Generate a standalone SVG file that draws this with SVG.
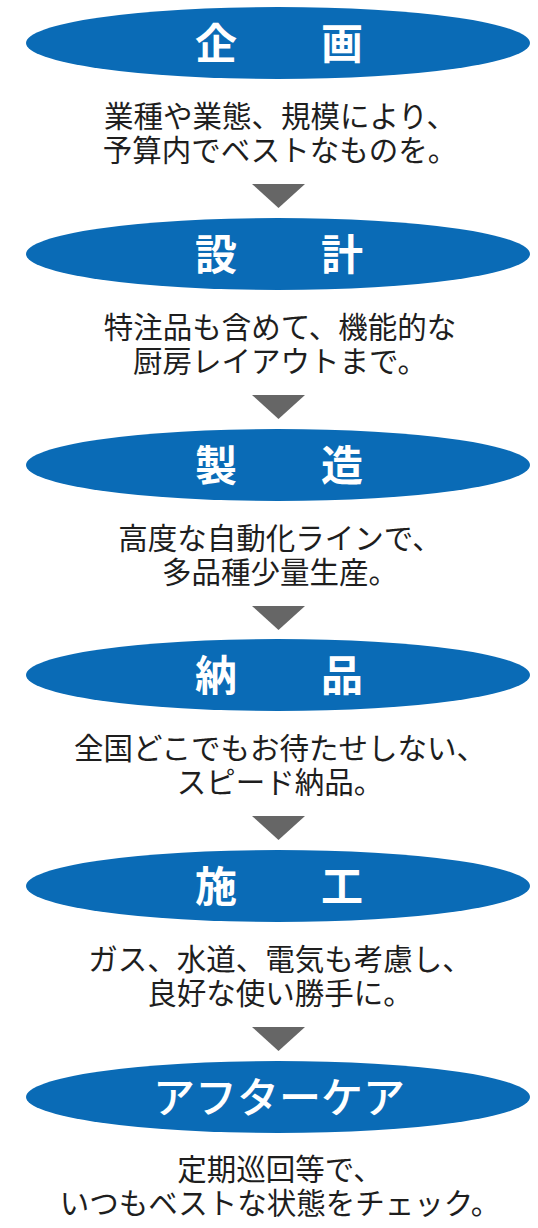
<svg xmlns="http://www.w3.org/2000/svg" width="538" height="1228" viewBox="0 0 538 1228">
<style>
.el{fill:#0a6bb6}
.ttl{font-family:"Noto Sans CJK JP","Noto Sans CJK SC",sans-serif;font-size:42px;font-weight:700;fill:#fff;text-anchor:middle}
.ttl2{font-family:"Noto Sans CJK JP","Noto Sans CJK SC",sans-serif;font-size:42px;font-weight:500;fill:#fff;text-anchor:middle}
.dsc{font-family:"Noto Sans CJK JP","Noto Sans CJK SC",sans-serif;font-size:29.5px;font-weight:400;fill:#1e1e1e;text-anchor:middle}
.arr{fill:#666}
</style>
<rect width="538" height="1228" fill="#fff"/>
<g id="connectors">
<polygon class="arr" points="252,184 305,184 278.5,208"/>
<polygon class="arr" points="252,395 305,395 278.5,419"/>
<polygon class="arr" points="252,606 305,606 278.5,630"/>
<polygon class="arr" points="252,816 305,816 278.5,840"/>
<polygon class="arr" points="252,1027 305,1027 278.5,1051"/>
</g>
<g id="node1">
<ellipse class="el" cx="278" cy="43" rx="252" ry="36"/>
<text class="ttl" x="279" y="59">企　　画</text>
<text class="dsc" x="280" y="127">業種や業態、規模により、</text>
<text class="dsc" x="280" y="161">予算内でベストなものを。</text>
</g>
<g id="node2">
<ellipse class="el" cx="278" cy="254" rx="252" ry="36"/>
<text class="ttl" x="279" y="270">設　　計</text>
<text class="dsc" x="280" y="338">特注品も含めて、機能的な</text>
<text class="dsc" x="280" y="372">厨房レイアウトまで。</text>
</g>
<g id="node3">
<ellipse class="el" cx="278" cy="465" rx="252" ry="36"/>
<text class="ttl" x="279" y="481">製　　造</text>
<text class="dsc" x="280" y="549">高度な自動化ラインで、</text>
<text class="dsc" x="280" y="583">多品種少量生産。</text>
</g>
<g id="node4">
<ellipse class="el" cx="278" cy="675" rx="252" ry="36"/>
<text class="ttl" x="279" y="691">納　　品</text>
<text class="dsc" x="280" y="759">全国どこでもお待たせしない、</text>
<text class="dsc" x="280" y="793">スピード納品。</text>
</g>
<g id="node5">
<ellipse class="el" cx="278" cy="886" rx="252" ry="36"/>
<text class="ttl" x="279" y="902">施　　工</text>
<text class="dsc" x="280" y="970">ガス、水道、電気も考慮し、</text>
<text class="dsc" x="280" y="1004">良好な使い勝手に。</text>
</g>
<g id="node6">
<ellipse class="el" cx="278" cy="1097" rx="252" ry="36"/>
<text class="ttl2" x="279" y="1113">アフターケア</text>
<text class="dsc" x="280" y="1180">定期巡回等で、</text>
<text class="dsc" x="280" y="1214">いつもベストな状態をチェック。</text>
</g>
</svg>
